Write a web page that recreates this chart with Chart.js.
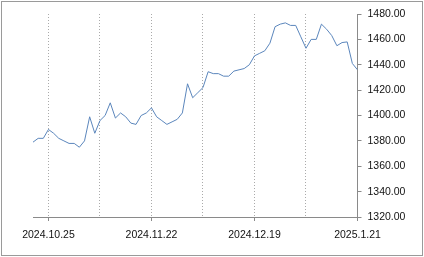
<!DOCTYPE html>
<html>
<head>
<meta charset="utf-8">
<script src="https://cdn.jsdelivr.net/npm/chart.js@4/dist/chart.umd.min.js"></script>
<style>
  body { margin: 0; background: #fff; }
  canvas { display: block; }
</style>
</head>
<body>
<canvas id="priceChart" width="424" height="257"></canvas>
<script>
// daily closes, oldest first
var closes = [
  1379, 1382, 1382, 1389, 1386, 1382, 1380, 1378, 1378, 1375,
  1380, 1399, 1386, 1396, 1400, 1410, 1398, 1402, 1399, 1394,
  1393, 1400, 1402, 1406, 1399, 1396, 1393, 1395, 1397, 1402,
  1425, 1414, 1418, 1422, 1434.5, 1433, 1433, 1431, 1431, 1435,
  1436, 1437, 1440, 1447, 1449, 1451, 1457, 1470, 1472, 1473,
  1471, 1471, 1462, 1453, 1460, 1460, 1472, 1468, 1463, 1455,
  1457.5, 1458, 1441, 1436
];
var gridIndex = [3, 13, 23, 33, 43, 53, 63];
var tickIndex = [3, 23, 43, 63];
var tickLabels = ['2024.10.25', '2024.11.22', '2024.12.19', '2025.1.21'];
var yMin = 1320, yMax = 1480, yStep = 20;

var points = closes.map(function(v, i) { return { x: i, y: v }; });

var frame = {
  id: 'frame',
  afterDraw: function(chart) {
    var c = chart.ctx;
    c.save();
    c.strokeStyle = '#9a9a9a';
    c.lineWidth = 1;
    c.strokeRect(1.5, 1.5, 421, 254);
    c.restore();
  }
};

var labelFont = { family: '"Liberation Sans", Arial, sans-serif', size: 10.5 };

new Chart(document.getElementById('priceChart'), {
  type: 'line',
  data: {
    datasets: [{
      data: points,
      borderColor: '#5b86bc',
      borderWidth: 1,
      pointRadius: 0,
      tension: 0,
      fill: false
    }]
  },
  options: {
    responsive: false,
    animation: false,
    layout: { padding: { left: 33, top: 14, right: 6.5, bottom: 10 } },
    plugins: { legend: { display: false }, tooltip: { enabled: false } },
    scales: {
      x: {
        type: 'linear',
        min: 0,
        max: closes.length - 1,
        afterBuildTicks: function(scale) {
          scale.ticks = gridIndex.map(function(v) { return { value: v }; });
        },
        afterFit: function(scale) { scale.height = 30; },
        border: { display: true, color: '#8a8a8a', width: 1, dash: [1, 2] },
        grid: {
          display: true,
          color: '#aaaaaa',
          lineWidth: 1,
          drawTicks: true,
          tickLength: 4,
          tickColor: function(ctx) {
            return tickIndex.indexOf(ctx.tick && ctx.tick.value) >= 0 ? '#8a8a8a' : 'rgba(0,0,0,0)';
          },
          tickBorderDash: []
        },
        ticks: {
          autoSkip: false,
          maxRotation: 0,
          padding: 8,
          color: '#111',
          font: labelFont,
          callback: function(v) {
            var k = tickIndex.indexOf(v);
            return k >= 0 ? tickLabels[k] : '';
          }
        }
      },
      y: {
        position: 'right',
        min: yMin,
        max: yMax,
        afterFit: function(scale) { scale.width = 60; },
        border: { display: true, color: '#8a8a8a', width: 1 },
        grid: {
          drawOnChartArea: false,
          drawTicks: true,
          tickLength: 4,
          tickColor: '#8a8a8a'
        },
        ticks: {
          stepSize: yStep,
          padding: 6,
          color: '#111',
          font: labelFont,
          callback: function(v) { return v.toFixed(2); }
        }
      }
    }
  },
  plugins: [frame]
});
</script>
</body>
</html>
